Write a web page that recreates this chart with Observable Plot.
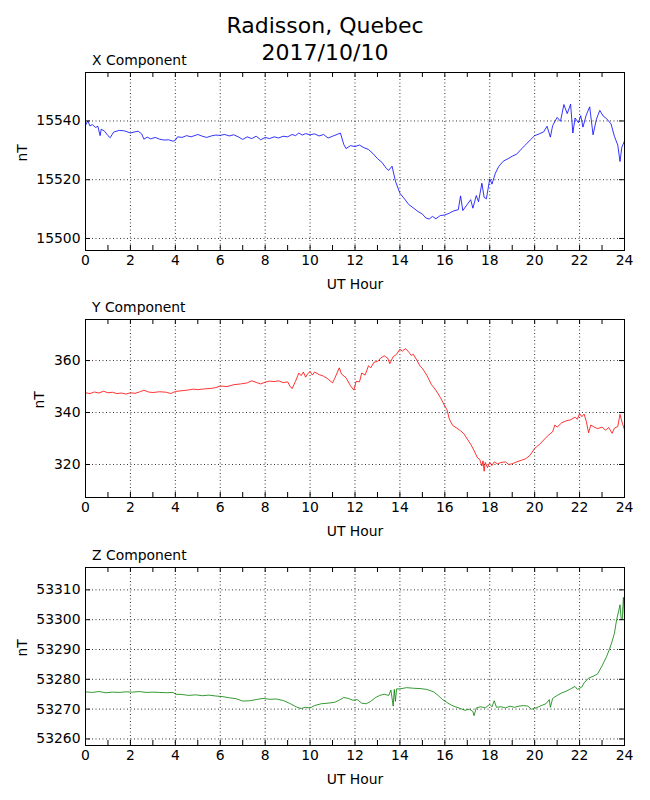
<!DOCTYPE html>
<html>
<head>
<meta charset="utf-8">
<script src="https://cdn.jsdelivr.net/npm/d3@7"></script>
<script src="https://cdn.jsdelivr.net/npm/@observablehq/plot@0.6"></script>
<style>
  html, body { margin: 0; padding: 0; background: #fff; }
  #page { position: relative; width: 650px; height: 800px; font-family: "DejaVu Sans", sans-serif; color: #000; }
  .title { position: absolute; left: 0; width: 650px; top: 13px; text-align: center; font-size: 22px; line-height: 26.7px; }
  .ptitle { position: absolute; left: 92px; font-size: 13.9px; line-height: 16px; white-space: nowrap; }
  .panel { position: absolute; left: 0; }
</style>
</head>
<body>
<div id="page">
  <div class="title">Radisson, Quebec<br>2017/10/10</div>
</div>
<script>
// ---- Data ----
const titleLine1 = "Radisson, Quebec";
const titleLine2 = "2017/10/10";
const panelTitles = ["X Component", "Y Component", "Z Component"];
const xAxisLabel = "UT Hour";
const yAxisLabel = "nT";
const hourTickLabels = [0, 2, 4, 6, 8, 10, 12, 14, 16, 18, 20, 22, 24];
const hourMinorTicks = [0,1,2,3,4,5,6,7,8,9,10,11,12,13,14,15,16,17,18,19,20,21,22,23,24];

const xCompTicks = [15500, 15520, 15540];
const yCompTicks = [320, 340, 360];
const zCompTicks = [53260, 53270, 53280, 53290, 53300, 53310];

const xCompHours = [0.0,0.1,0.2,0.3,0.45,0.55,0.65,0.7,0.85,1.0,1.1,1.25,1.5,1.75,2.0,2.2,2.35,2.5,2.6,2.75,2.9,3.1,3.3,3.5,3.7,3.9,4.0,4.1,4.3,4.5,4.7,5.0,5.2,5.4,5.6,5.8,6.0,6.2,6.4,6.6,6.8,7.0,7.2,7.4,7.6,7.8,8.0,8.2,8.4,8.6,8.8,9.0,9.2,9.35,9.5,9.65,9.8,10.0,10.2,10.4,10.6,10.8,11.0,11.2,11.35,11.5,11.6,11.8,12.0,12.2,12.4,12.6,12.8,13.0,13.2,13.4,13.5,13.65,13.8,14.0,14.2,14.4,14.6,14.8,15.0,15.15,15.3,15.45,15.6,15.8,16.0,16.2,16.4,16.6,16.7,16.8,17.0,17.15,17.25,17.4,17.5,17.65,17.75,17.85,18.0,18.1,18.25,18.4,18.6,18.8,19.0,19.2,19.4,19.6,19.8,20.0,20.2,20.4,20.55,20.7,20.8,21.0,21.15,21.3,21.45,21.6,21.7,21.8,21.95,22.05,22.15,22.3,22.45,22.6,22.75,22.9,23.05,23.2,23.4,23.55,23.7,23.8,23.88,24.0];
const xCompValues = [15538.5,15540.0,15538.3,15538.8,15537.8,15538.2,15535.0,15537.2,15536.5,15535.0,15534.3,15536.2,15536.8,15536.6,15535.9,15536.3,15536.5,15535.6,15533.8,15534.5,15533.9,15534.4,15533.8,15533.5,15533.6,15533.1,15533.4,15534.6,15534.4,15535.0,15534.6,15535.4,15534.8,15534.4,15534.9,15535.2,15535.1,15535.4,15534.9,15535.3,15534.6,15533.7,15534.6,15534.0,15534.8,15533.6,15534.4,15534.0,15534.6,15534.2,15534.8,15534.6,15535.4,15535.0,15535.9,15535.2,15535.7,15535.3,15535.6,15534.9,15535.4,15534.2,15534.8,15535.4,15535.9,15532.0,15530.6,15531.6,15531.3,15531.8,15530.9,15530.3,15528.9,15527.2,15525.9,15523.8,15523.2,15524.6,15519.5,15515.4,15513.5,15511.5,15510.4,15509.2,15508.3,15507.0,15506.6,15507.5,15506.7,15507.8,15508.0,15508.6,15509.4,15509.8,15514.5,15509.5,15511.6,15513.2,15510.3,15514.6,15512.5,15518.8,15514.0,15513.5,15520.3,15518.5,15522.2,15524.5,15526.3,15527.1,15528.0,15528.7,15530.4,15531.9,15533.5,15535.0,15535.6,15536.3,15538.2,15534.5,15538.4,15541.2,15539.9,15545.6,15542.5,15545.7,15535.9,15541.0,15539.4,15541.8,15537.9,15542.1,15544.8,15535.3,15540.6,15543.6,15541.7,15540.8,15539.0,15534.8,15531.8,15526.2,15531.0,15533.2];

const yCompHours = [0.0,0.2,0.4,0.6,0.8,1.0,1.2,1.4,1.6,1.8,2.0,2.2,2.4,2.6,2.8,3.0,3.3,3.6,3.8,4.0,4.3,4.6,4.8,5.0,5.3,5.6,5.8,6.0,6.3,6.6,6.9,7.2,7.4,7.6,7.8,8.0,8.2,8.4,8.6,8.8,9.0,9.1,9.2,9.35,9.5,9.6,9.7,9.8,9.9,10.0,10.1,10.2,10.4,10.6,10.8,11.0,11.1,11.3,11.4,11.6,11.8,11.95,12.05,12.2,12.3,12.45,12.6,12.7,12.85,13.0,13.15,13.3,13.45,13.55,13.7,13.85,14.0,14.1,14.25,14.4,14.5,14.6,14.75,14.9,15.0,15.2,15.4,15.6,15.8,16.0,16.1,16.2,16.35,16.5,16.7,16.85,17.0,17.15,17.3,17.45,17.55,17.65,17.7,17.75,17.8,17.9,18.0,18.1,18.2,18.35,18.5,18.7,18.85,19.0,19.2,19.4,19.6,19.8,20.0,20.2,20.4,20.6,20.8,20.9,21.0,21.2,21.4,21.6,21.8,21.9,22.0,22.1,22.2,22.3,22.4,22.5,22.65,22.8,23.0,23.15,23.3,23.45,23.55,23.7,23.8,23.9,24.0];
const yCompValues = [347.6,347.3,347.9,347.5,348.2,347.6,347.8,347.3,347.5,347.1,347.6,347.4,347.9,348.6,347.9,347.7,348.0,347.8,347.3,348.1,348.4,348.7,349.0,348.8,349.1,349.3,349.6,350.2,350.0,350.7,351.0,351.4,352.2,351.6,351.0,351.7,352.1,351.9,352.2,351.5,351.8,350.2,349.2,352.0,355.2,354.2,355.6,353.6,355.0,355.8,354.4,355.6,354.6,354.0,352.9,351.4,353.2,357.2,354.8,353.4,350.3,348.6,352.0,351.8,355.2,354.4,358.0,357.2,359.4,359.6,361.0,361.8,361.0,358.8,361.5,362.4,364.4,363.6,364.6,363.2,362.0,362.4,360.2,357.8,357.0,354.3,350.8,348.6,345.8,342.5,341.0,337.5,335.0,334.2,333.0,331.8,329.8,327.8,325.4,322.6,322.0,319.4,321.4,317.4,320.8,318.8,320.8,319.6,321.0,320.2,320.8,321.0,320.0,320.3,321.0,321.6,322.2,323.6,326.2,327.6,329.4,331.2,332.6,335.2,334.4,336.0,336.8,337.2,338.2,337.4,339.6,338.4,339.4,336.6,332.2,335.2,334.4,333.8,334.4,333.2,334.2,332.0,334.0,334.6,339.3,336.0,333.4];

const zCompHours = [0.0,0.3,0.6,0.9,1.2,1.5,1.8,2.1,2.4,2.7,3.0,3.3,3.6,3.9,4.0,4.3,4.6,4.9,5.2,5.5,5.8,6.1,6.4,6.7,7.0,7.3,7.6,7.9,8.2,8.5,8.8,9.1,9.4,9.6,9.8,10.0,10.2,10.5,10.8,11.1,11.3,11.5,11.7,11.9,12.1,12.3,12.5,12.7,12.9,13.1,13.3,13.5,13.6,13.7,13.75,13.8,13.85,14.0,14.3,14.6,14.9,15.2,15.5,15.7,15.9,16.1,16.3,16.5,16.7,16.9,17.1,17.25,17.3,17.4,17.6,17.8,18.0,18.1,18.2,18.3,18.5,18.7,18.9,19.1,19.3,19.5,19.7,19.85,20.0,20.3,20.5,20.65,20.7,20.8,21.0,21.2,21.4,21.6,21.8,21.9,22.1,22.2,22.4,22.6,22.8,23.0,23.2,23.35,23.45,23.55,23.65,23.75,23.8,23.85,23.9,23.95,24.0];
const zCompValues = [53275.8,53275.6,53275.9,53275.5,53275.7,53275.6,53275.8,53275.7,53275.9,53275.6,53275.7,53275.6,53275.5,53275.6,53275.0,53274.9,53274.6,53274.8,53274.5,53274.7,53274.4,53274.2,53273.8,53273.5,53272.7,53272.8,53273.2,53273.6,53273.3,53273.4,53272.9,53271.9,53270.7,53270.2,53270.6,53270.4,53271.2,53271.8,53272.0,53272.3,53273.0,53273.9,53273.6,53273.0,53273.2,53272.0,53271.8,53272.6,53273.8,53274.6,53275.0,53274.6,53276.4,53271.0,53276.6,53272.6,53276.8,53276.8,53277.2,53277.0,53276.9,53276.6,53275.8,53274.6,53273.2,53272.2,53271.3,53270.7,53270.2,53269.6,53270.0,53269.2,53267.8,53270.4,53270.8,53270.4,53271.6,53270.8,53272.8,53270.6,53270.8,53270.4,53271.0,53270.6,53271.0,53271.2,53271.0,53270.0,53270.2,53271.2,53271.8,53273.2,53270.6,53273.6,53274.6,53275.4,53276.0,53276.8,53277.6,53276.6,53277.4,53278.8,53280.4,53281.0,53281.8,53284.5,53287.6,53290.5,53292.8,53295.4,53300.0,53303.2,53305.0,53300.4,53300.0,53307.5,53300.8];

// ---- Panels ----
const panels = [
  {title: panelTitles[0], hours: xCompHours, values: xCompValues, ticks: xCompTicks, domain: [15495.9, 15556.5], color: "#0000ff", frameTop: 72, nTdx: -63},
  {title: panelTitles[1], hours: yCompHours, values: yCompValues, ticks: yCompTicks, domain: [307.3, 375.8], color: "#ff0000", frameTop: 319, nTdx: -46},
  {title: panelTitles[2], hours: zCompHours, values: zCompValues, ticks: zCompTicks, domain: [53257.8, 53317.5], color: "#008000", frameTop: 566.5, nTdx: -63}
];

const page = document.getElementById("page");
const W = 650, ML = 85, MR = 26, MT = 2, FH = 178, MB = 50;
const FW = W - ML - MR;
const tickLen = 5;

for (const p of panels) {
  const data = p.hours.map((h, i) => ({h, v: p.values[i]}));
  const chart = Plot.plot({
    width: W,
    height: MT + FH + MB,
    marginLeft: ML,
    marginRight: MR,
    marginTop: MT,
    marginBottom: MB,
    style: {fontFamily: "DejaVu Sans, sans-serif", fontSize: "13.9px", color: "#000", background: "transparent", overflow: "visible"},
    x: {domain: [0, 24], nice: false},
    y: {domain: p.domain, nice: false},
    marks: [
      // dotted grid
      Plot.ruleX(hourTickLabels, {x: d => d, stroke: "#000", strokeWidth: 0.8, strokeDasharray: "1,2.5"}),
      Plot.ruleY(p.ticks, {y: d => d, stroke: "#000", strokeWidth: 0.8, strokeDasharray: "1,2.5"}),
      // data line
      Plot.line(data, {x: "h", y: "v", stroke: p.color, strokeWidth: 0.8}),
      // inward ticks
      Plot.tickX(hourMinorTicks, {x: d => d, insetTop: FH - tickLen, stroke: "#000"}),
      Plot.tickX(hourMinorTicks, {x: d => d, insetBottom: FH - tickLen, stroke: "#000"}),
      Plot.tickY(p.ticks, {y: d => d, insetRight: FW - tickLen, stroke: "#000"}),
      Plot.tickY(p.ticks, {y: d => d, insetLeft: FW - tickLen, stroke: "#000"}),
      // tick labels
      Plot.axisX({ticks: hourTickLabels, tickSize: 0, tickPadding: 5, tickFormat: d => String(d), label: null}),
      Plot.axisY({ticks: p.ticks, tickSize: 0, tickPadding: 5, tickFormat: d => String(d), label: null}),
      // axis titles
      Plot.text([xAxisLabel], {text: d => d, frameAnchor: "bottom", dy: 38, fill: "#000"}),
      Plot.text([yAxisLabel], {text: d => d, frameAnchor: "left", dx: p.nTdx, rotate: -90, fill: "#000"}),
      Plot.frame({stroke: "#000", strokeWidth: 1})
    ]
  });
  chart.classList.add("panel");
  chart.style.top = (p.frameTop - MT) + "px";
  chart.style.position = "absolute";
  chart.style.left = "0px";
  page.appendChild(chart);

  const t = document.createElement("div");
  t.className = "ptitle";
  t.textContent = p.title;
  t.style.top = (p.frameTop - 19.8) + "px";
  page.appendChild(t);
}
</script>
</body>
</html>
